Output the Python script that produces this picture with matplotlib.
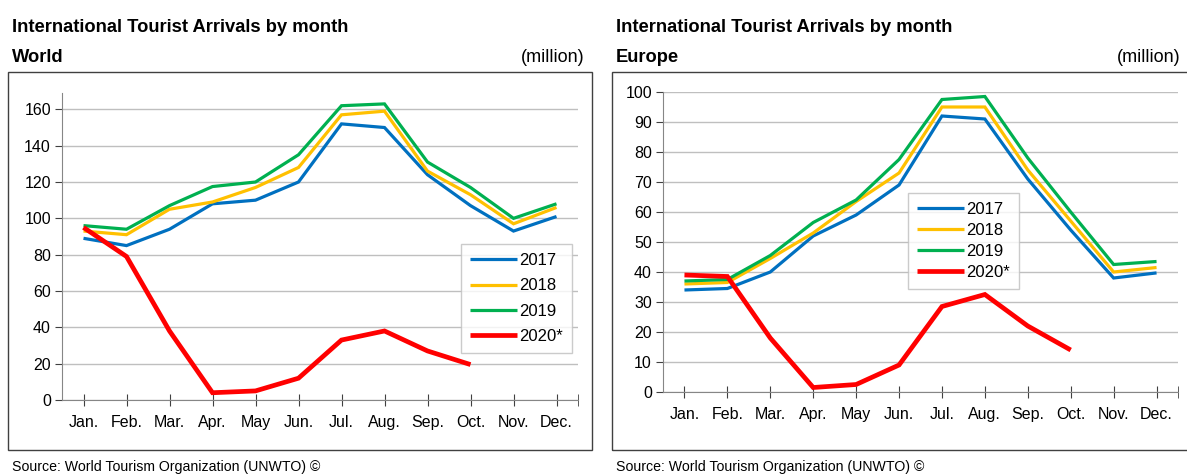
import matplotlib
matplotlib.use('Agg')
import matplotlib.pyplot as plt
from matplotlib.patches import Rectangle

plt.rcParams['font.family'] = ['Liberation Sans', 'DejaVu Sans']

months = ['Jan.', 'Feb.', 'Mar.', 'Apr.', 'May', 'Jun.', 'Jul.', 'Aug.', 'Sep.', 'Oct.', 'Nov.', 'Dec.']
years = ['2017', '2018', '2019', '2020*']

# World, million arrivals
world_2017 = [89, 85, 94, 108, 110, 120, 152, 150, 124, 107, 93, 101]
world_2018 = [93, 91, 105, 109, 117, 128, 157, 159, 126, 113, 97, 106]
world_2019 = [96, 94, 107, 117.5, 120, 135, 162, 163, 131, 117, 100, 108]
world_2020 = [95, 79, 38, 4, 5, 12, 33, 38, 27, 19.5]

# Europe, million arrivals
europe_2017 = [34, 34.5, 40, 52, 59, 69, 92, 91, 71, 54, 38, 39.7]
europe_2018 = [36, 36.5, 44.5, 53, 63.5, 73, 95, 95, 74, 57, 40, 41.5]
europe_2019 = [37, 37.5, 45.5, 56.5, 64, 77.5, 97.5, 98.5, 78, 60, 42.5, 43.5]
europe_2020 = [39, 38.5, 18, 1.5, 2.5, 9, 28.5, 32.5, 22, 14]

colors = ['#0070C0', '#FFC000', '#00B050', '#FF0000']
widths = [2.3, 2.3, 2.3, 3.4]

W, H = 1187, 475
fig = plt.figure(figsize=(W / 100, H / 100), dpi=100)


def fx(x):
    return x / W


def fy(y):
    return 1 - y / H


def panel(box, axbox, region, series, ymax, step, leg_xy, leg_space):
    x0, y0, x1, y1 = box
    fig.patches.append(Rectangle((fx(x0), fy(y1)), fx(x1 - x0), (y1 - y0) / H,
                                 transform=fig.transFigure, fill=False,
                                 edgecolor='#404040', linewidth=1.0))
    fig.text(fx(x0 + 4), fy(27), 'International Tourist Arrivals by month',
             fontsize=13.2, fontweight='bold', va='center', ha='left')
    fig.text(fx(x0 + 4), fy(58), region, fontsize=13.2, fontweight='bold',
             va='center', ha='left')
    fig.text(fx(min(x1, 1187) - 7), fy(58), '(million)', fontsize=13,
             va='center', ha='right')
    fig.text(fx(x0 + 4), fy(467), 'Source: World Tourism Organization (UNWTO) \u00a9',
             fontsize=10.2, va='center', ha='left')

    a0, b0, a1, b1 = axbox
    ax = fig.add_axes([fx(a0), fy(b1), fx(a1 - a0), (b1 - b0) / H])
    for vals, c, lw, lab in zip(series, colors, widths, years):
        ax.plot(range(len(vals)), vals, color=c, linewidth=lw, label=lab,
                solid_joinstyle='miter', solid_capstyle='butt')
    ax.set_xlim(-0.5, 11.5)
    ax.set_ylim(0, ymax)
    ax.set_yticks(range(0, int(ymax) + 1, step))
    ax.set_xticks(range(12))
    ax.set_xticklabels(months)
    ax.set_xticks([11.5], minor=True)
    ax.grid(axis='y', color='#BFBFBF', linewidth=1.0)
    ax.set_axisbelow(True)
    for s in ['top', 'right']:
        ax.spines[s].set_visible(False)
    for s in ['left', 'bottom']:
        ax.spines[s].set_color('#868686')
    ax.tick_params(axis='x', which='both', direction='inout', length=9,
                   color='#404040', labelsize=11.5, pad=6)
    ax.tick_params(axis='y', direction='out', length=5, color='#404040',
                   labelsize=11.5, pad=3)
    leg = ax.legend(loc='upper left', bbox_to_anchor=(fx(leg_xy[0]), fy(leg_xy[1])),
                    bbox_transform=fig.transFigure, borderaxespad=0,
                    frameon=True, fancybox=False, edgecolor='#BFBFBF',
                    fontsize=12, handlelength=2.8, handletextpad=0.15,
                    labelspacing=leg_space, borderpad=0.55)
    leg.get_frame().set_linewidth(1.0)
    return ax


panel((8, 72, 592, 450), (62, 93, 578, 400), 'World',
      [world_2017, world_2018, world_2019, world_2020], 169, 20,
      (461, 244), 0.62)
panel((612, 72, 1192, 450), (663, 92, 1178, 392), 'Europe',
      [europe_2017, europe_2018, europe_2019, europe_2020], 100, 10,
      (908, 193), 0.35)

fig.savefig('out.png', dpi=100)
